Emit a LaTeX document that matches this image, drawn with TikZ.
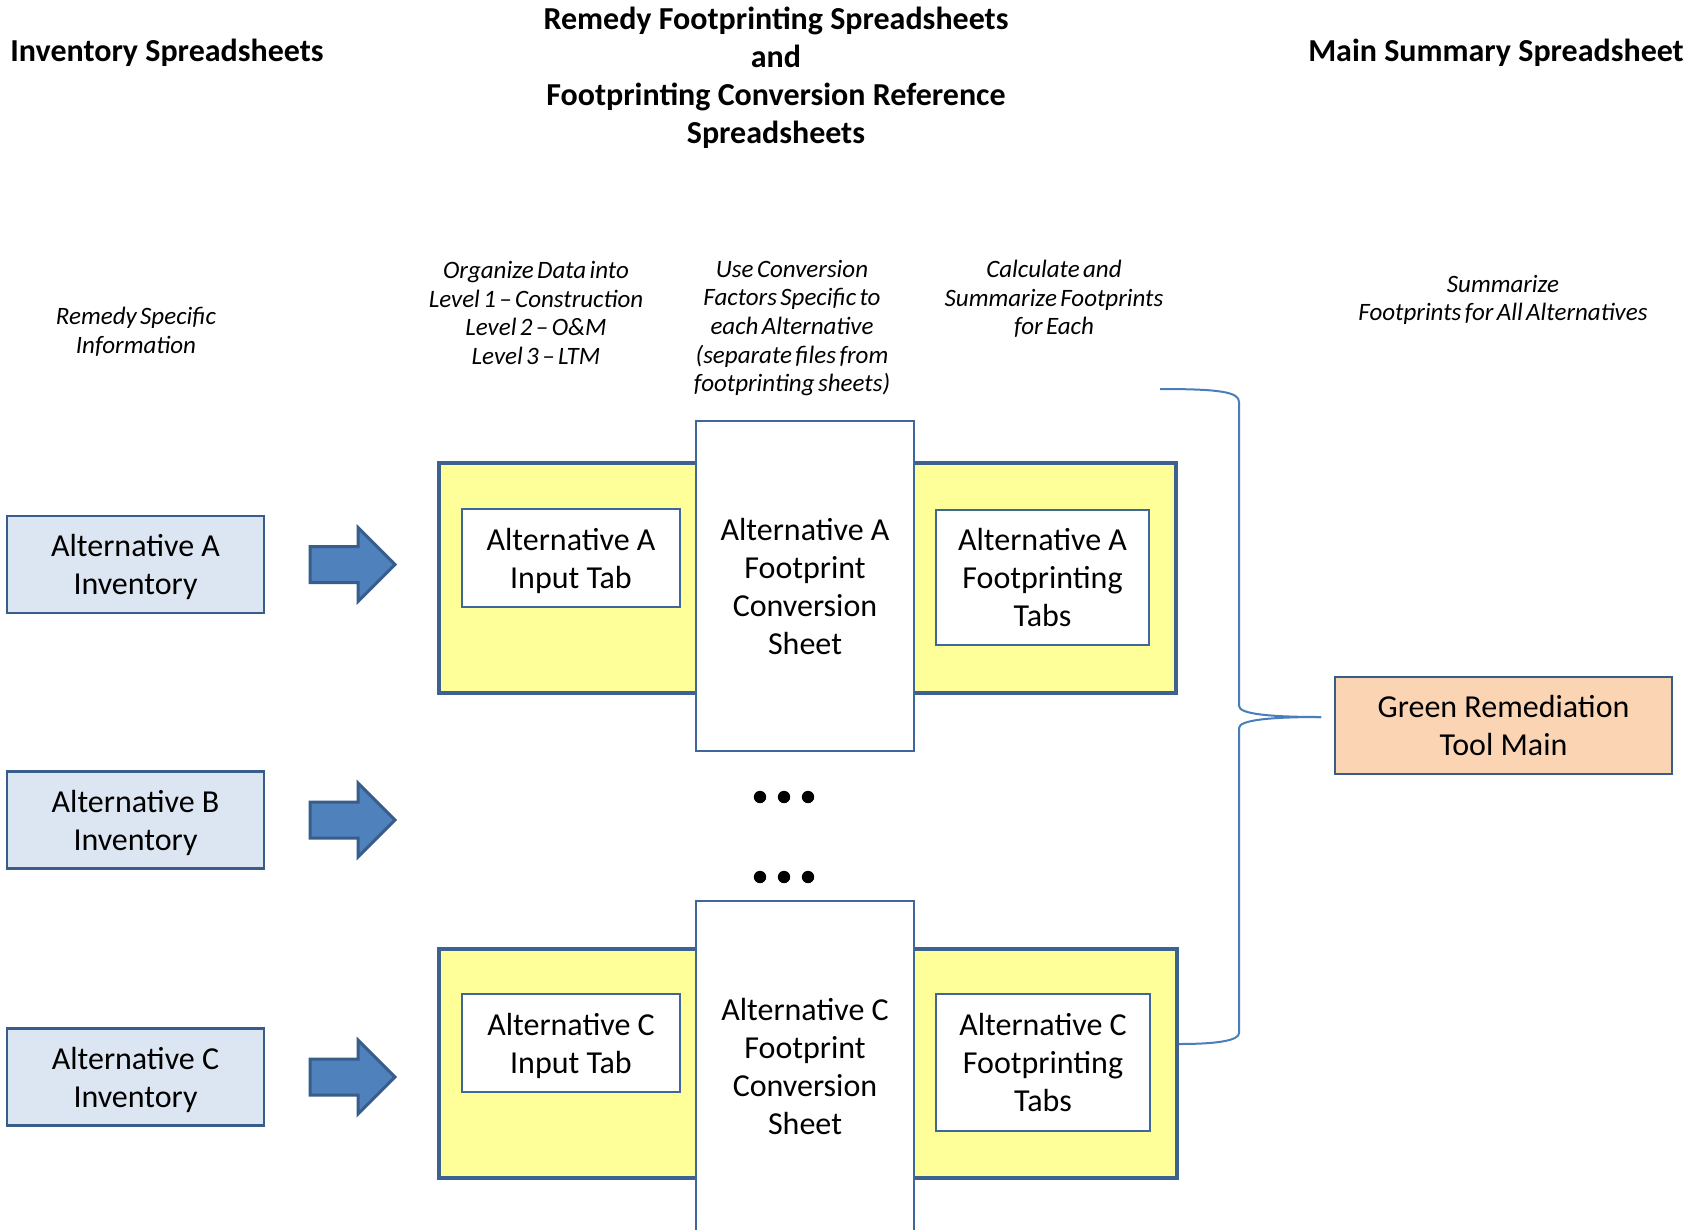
\documentclass[tikz,border=0pt]{standalone}
\usepackage{fontspec}
\setmainfont{Carlito}
\newfontfamily\notefont[WordSpace=0.6]{Carlito}
\newcommand\nodp[1]{\raisebox{0pt}[\height][0pt]{#1}}
\definecolor{invfill}{HTML}{DCE6F2}
\definecolor{darkblue}{HTML}{385D8A}
\definecolor{yelfill}{HTML}{FFFF99}
\definecolor{yelborder}{HTML}{3D6190}
\definecolor{boxborder}{HTML}{41679A}
\definecolor{arrowfill}{HTML}{4F81BD}
\definecolor{orangefill}{HTML}{FBD4B4}
\definecolor{bracecol}{HTML}{4A7EBB}
\tikzset{
  txt/.style={font=\fontsize{32}{38}\selectfont, align=center, inner sep=0pt},
  head/.style={font=\fontsize{32}{38}\selectfont\bfseries, align=center, inner sep=0pt},
  note/.style={font=\notefont\itshape\fontsize{25}{28.7}\selectfont, align=center, inner sep=0pt},
  invbox/.style={txt, draw=darkblue, line width=2.3pt, fill=invfill, minimum width=257pt, minimum height=97pt},
  yelbox/.style={draw=yelborder, line width=4.5pt, fill=yelfill, inner sep=0pt},
  wbox/.style={txt, draw=boxborder, line width=2pt, fill=white},
  greenbox/.style={txt, draw=darkblue, line width=2.3pt, fill=orangefill, minimum width=337pt, minimum height=97pt},
  blockarrow/.style={draw=darkblue, line width=3pt, fill=arrowfill, line join=miter},
  bracestyle/.style={draw=bracecol, line width=2pt},
}
\begin{document}
\begin{tikzpicture}[x=1pt,y=-1pt]
\useasboundingbox (0,0) rectangle (1708,1229);
\clip (0,0) rectangle (1708,1229);
\fill[white] (0,0) rectangle (1708,1229);

% headers
\node[head] (h1) at (167,53) {Inventory Spreadsheets};
\node[head] (h2) at (776,78) {Remedy Footprinting Spreadsheets\\and\\Footprinting Conversion Reference\\Spreadsheets};
\node[head] (h3) at (1496,53) {Main Summary Spreadsheet};

% notes
\node[note] (n1) at (136,332) {Remedy Specific\\Information};
\node[note] (n2) at (536,313) {Organize Data into\\Level 1 – Construction\\Level 2 – O\&M\\Level 3 – LTM};
\node[note] (n3) at (792,328) {Use Conversion\\Factors Specific to\\each Alternative\\(separate files from\\footprinting sheets)};
\node[note] (n4) at (1054,299) {Calculate and\\Summarize Footprints\\for Each};
\node[note] (n5) at (1503,300) {Summarize\\Footprints for All Alternatives};

% inventory boxes
\node[invbox] (invA) at (135.5,564.5) {Alternative A\\\nodp{Inventory}};
\node[invbox] (invB) at (135.5,820) {Alternative B\\\nodp{Inventory}};
\node[invbox] (invC) at (135.5,1077) {Alternative C\\\nodp{Inventory}};

% block arrows
\foreach \yy/\nm in {564.5/A,820/B,1077/C}{
  \draw[blockarrow] (310,{\yy-18}) -- (358,{\yy-18}) -- (358,{\yy-37}) -- (395,\yy)
     -- (358,{\yy+37}) -- (358,{\yy+18}) -- (310,{\yy+18}) -- cycle;
}

% yellow containers
\node[yelbox, minimum width=737pt, minimum height=230pt] (yelA) at (807.5,578) {};
\node[yelbox, minimum width=738pt, minimum height=229pt] (yelC) at (808,1063.5) {};

% conversion sheets
\node[wbox, minimum width=218pt, minimum height=330pt] (convA) at (805,586) {Alternative A\\Footprint\\Conversion\\Sheet};
\node[wbox, minimum width=218pt, minimum height=330pt] (convC) at (805,1066) {Alternative C\\Footprint\\Conversion\\Sheet};

% input tabs
\node[wbox, minimum width=218pt, minimum height=98pt] (inA) at (571,558) {Alternative A\\\nodp{Input Tab}};
\node[wbox, minimum width=218pt, minimum height=98pt] (inC) at (571,1043) {Alternative C\\\nodp{Input Tab}};

% footprinting tabs
\node[wbox, minimum width=213pt, minimum height=135pt] (fpA) at (1042.5,577.5) {Alternative A\\Footprinting\\Tabs};
\node[wbox, minimum width=214pt, minimum height=137pt] (fpC) at (1043,1062.5) {Alternative C\\Footprinting\\Tabs};

% ellipsis dots
\foreach \xx in {760,784,808}{
  \fill (\xx,797) circle (6.2);
  \fill (\xx,877) circle (6.2);
}

% main box
\node[greenbox] (main) at (1503.5,725.5) {Green Remediation\\Tool Main};

% brace
\coordinate (bTop) at (1160,389);
\coordinate (bTip) at (1321,717);
\coordinate (bBot) at (1179,1044);
\draw[bracestyle] (bTop) .. controls (1220,389) and (1239,392) .. (1239,402)
   -- (1239,706) .. controls (1239,714) and (1270,717) .. (bTip);
\draw[bracestyle] (bTip) .. controls (1270,717) and (1239,720) .. (1239,728)
   -- (1239,1033) .. controls (1239,1040) and (1220,1044) .. (bBot);
\end{tikzpicture}
\end{document}
